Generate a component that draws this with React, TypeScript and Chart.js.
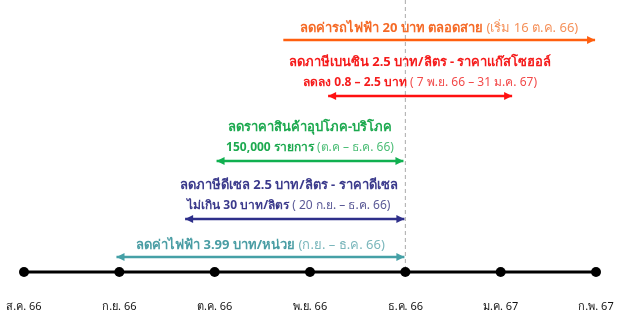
import React, { useEffect, useRef } from 'react';
import { Chart, registerables } from 'chart.js';

Chart.register(...registerables);

// ---------- data ----------
const monthValues = [0, 1, 2, 3, 4, 5, 6];
const monthLabels = ['ส.ค. 66', 'ก.ย. 66', 'ต.ค. 66', 'พ.ย. 66', 'ธ.ค. 66', 'ม.ค. 67', 'ก.พ. 67'];
const markerMonth = 4; // ธ.ค. 66

const measureStart = [2.72, 3.19, 2.02, 1.69, 0.97];
const measureEnd = [5.99, 5.12, 3.98, 3.99, 3.99];
const measureLeftHead = [false, true, true, true, true];
const line1Bold = [
  'ลดค่ารถไฟฟ้า 20 บาท ตลอดสาย',
  'ลดภาษีเบนซิน 2.5 บาท/ลิตร - ราคาแก๊สโซฮอล์',
  'ลดราคาสินค้าอุปโภค-บริโภค',
  'ลดภาษีดีเซล 2.5 บาท/ลิตร - ราคาดีเซล',
  'ลดค่าไฟฟ้า 3.99 บาท/หน่วย',
];
const line1Note = [' (เริ่ม 16 ต.ค. 66)', '', '', '', ' (ก.ย. – ธ.ค. 66)'];
const line2Bold = ['', 'ลดลง 0.8 – 2.5 บาท', '150,000 รายการ', 'ไม่เกิน 30 บาท/ลิตร', ''];
const line2Note = ['', ' ( 7 พ.ย. 66 – 31 ม.ค. 67)', ' (ต.ค – ธ.ค. 66)', ' ( 20 ก.ย. – ธ.ค. 66)', ''];

// ---------- layout / style ----------
const rowY = [40, 96, 161, 219, 257];
const textShift = [0, 0, 0, -6, 0];
const timelineY = 272;
const lineColors = ['#FF5F0F', '#FF1010', '#10B050', '#2E2F8A', '#45A0A6'];
const boldColors = ['#F56A26', '#F51B1B', '#1CA94F', '#3B3A8C', '#4A9DA4'];
const noteColors = ['#F5915A', '#F24A4A', '#4DBE77', '#5A5996', '#7BB7BC'];
const FONT = "Tahoma, 'Noto Sans', 'DejaVu Sans', sans-serif";

const annotPlugin = {
  id: 'annot',
  afterDatasetsDraw(chart: any) {
    const ctx = chart.ctx;
    ctx.save();
    measureStart.forEach((_, i) => {
      const meta = chart.getDatasetMeta(i);
      const p0 = meta.data[0];
      const p1 = meta.data[1];
      if (!p0 || !p1) return;
      const y = p0.y;
      ctx.fillStyle = lineColors[i];
      const L = 8, W = 4;
      ctx.beginPath();
      ctx.moveTo(p1.x, y);
      ctx.lineTo(p1.x - L, y - W);
      ctx.lineTo(p1.x - L, y + W);
      ctx.closePath();
      ctx.fill();
      if (measureLeftHead[i]) {
        ctx.beginPath();
        ctx.moveTo(p0.x, y);
        ctx.lineTo(p0.x + L, y - W);
        ctx.lineTo(p0.x + L, y + W);
        ctx.closePath();
        ctx.fill();
      }
      const cx = (p0.x + p1.x) / 2 + textShift[i];
      const drawLine = (bold: string, note: string, ly: number, size: number) => {
        const bf = `bold ${size}px ${FONT}`;
        const nf = `${size}px ${FONT}`;
        ctx.font = bf;
        const bw = ctx.measureText(bold).width;
        ctx.font = nf;
        const nw = ctx.measureText(note).width;
        let x = cx - (bw + nw) / 2;
        ctx.textBaseline = 'middle';
        ctx.textAlign = 'left';
        ctx.font = bf;
        ctx.fillStyle = boldColors[i];
        ctx.fillText(bold, x, ly);
        x += bw;
        ctx.font = nf;
        ctx.fillStyle = noteColors[i];
        ctx.fillText(note, x, ly);
      };
      if (line2Bold[i] || line2Note[i]) {
        drawLine(line1Bold[i], line1Note[i], y - 34, 13);
        drawLine(line2Bold[i], line2Note[i], y - 13, 12);
      } else {
        drawLine(line1Bold[i], line1Note[i], y - 12, 13);
      }
    });
    ctx.restore();
  },
};

export default function App() {
  const ref = useRef<HTMLCanvasElement>(null);
  useEffect(() => {
    if (!ref.current) return;
    const measureSets = measureStart.map((s, i) => ({
      type: 'line' as const,
      data: [
        { x: s, y: rowY[i] },
        { x: measureEnd[i], y: rowY[i] },
      ],
      borderColor: lineColors[i],
      borderWidth: 2.5,
      pointRadius: 0,
      order: 1,
    }));
    const chart = new Chart(ref.current, {
      type: 'line',
      data: {
        datasets: [
          ...measureSets,
          {
            data: [
              { x: markerMonth, y: 0 },
              { x: markerMonth, y: timelineY },
            ],
            borderColor: '#ABABAB',
            borderWidth: 1,
            borderDash: [4, 3],
            pointRadius: 0,
            order: 5,
          },
          {
            data: monthValues.map((v) => ({ x: v, y: timelineY })),
            borderColor: '#000000',
            backgroundColor: '#000000',
            borderWidth: 3,
            pointRadius: 5,
            pointBackgroundColor: '#000000',
            pointBorderWidth: 0,
            order: 0,
          },
        ] as any,
      },
      options: {
        animation: false,
        responsive: false,
        devicePixelRatio: 1,
        layout: { padding: 0, autoPadding: false },
        plugins: { legend: { display: false }, tooltip: { enabled: false } },
        events: [],
        scales: {
          x: {
            type: 'linear',
            min: -0.2517,
            max: 6.262,
            grid: { display: false, drawTicks: false },
            border: { display: false },
            afterBuildTicks: (s: any) => {
              s.ticks = monthValues.map((v) => ({ value: v }));
            },
            afterFit: (s: any) => {
              s.height = 16;
            },
            ticks: {
              autoSkip: false,
              maxRotation: 0,
              padding: 2,
              color: '#111111',
              font: { family: FONT, size: 11 },
              callback: (v: any) => monthLabels[monthValues.indexOf(Number(v))] ?? '',
            },
          },
          y: {
            type: 'linear',
            display: false,
            reverse: true,
            min: 0,
            max: 298,
          },
        },
      } as any,
      plugins: [annotPlugin],
    });
    return () => chart.destroy();
  }, []);
  return (
    <div style={{ position: 'fixed', left: 0, top: 0, width: 621, height: 314, background: '#fff' }}>
      <canvas ref={ref} width={621} height={314} />
    </div>
  );
}
